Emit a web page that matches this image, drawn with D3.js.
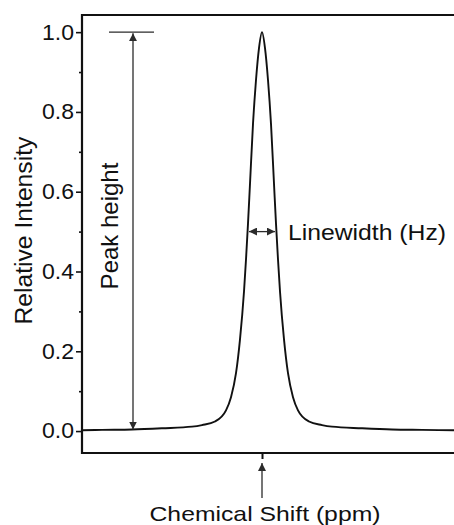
<!DOCTYPE html>
<html>
<head>
<meta charset="utf-8">
<script src="https://cdn.jsdelivr.net/npm/d3@7"></script>
<style>
  body { margin: 0; background: #fff; }
  text { font-family: "Liberation Sans", Arial, sans-serif; fill: #111; }
</style>
</head>
<body>
<div id="chart"></div>
<script>
// shift offset from peak centre (arbitrary units) and relative intensity
const shift = [-90, -80, -65, -50, -35, -30, -23.5, -18, -15.5, -13, -11, -9, -8, -7, -6, -4.5, -3, -1.5,
               0, 1.5, 3, 4.5, 6, 7, 8, 9, 11, 13, 15.5, 18, 23.5, 30, 35, 50, 65, 80, 96];
const intensity = [0.002, 0.003, 0.004, 0.007, 0.011, 0.015, 0.024, 0.052, 0.085, 0.145, 0.23, 0.35, 0.43, 0.52, 0.62, 0.77, 0.88, 0.96,
                   1.0, 0.96, 0.88, 0.77, 0.62, 0.52, 0.43, 0.35, 0.23, 0.145, 0.085, 0.052, 0.024, 0.015, 0.011, 0.007, 0.004, 0.003, 0.002];
const yTicks = [0, 0.2, 0.4, 0.6, 0.8, 1.0];
const yMinorTicks = [0.1, 0.3, 0.5, 0.7, 0.9];

// annotation anchors (data units)
const peakCentre = 0;
const peakHeight = 1.0;
const halfWidth = 6.5;
const heightArrowAt = -64.5;
const capSpan = [-76.5, -54];

(function nmrPeak(){
    let width = 454,
    height = 525,
    margin = ({top: 15, right: 0, bottom: 72, left: 82})

    const svg = d3.select("#chart")
      .append("svg")
      .attr("width", width)
      .attr("height", height);

    let xScale = d3.scaleLinear()
      .domain([-90, 96])
      .range([margin.left, width - margin.right]);

    let yScale = d3.scaleLinear()
      .domain([-0.055, 1.043])
      .range([height - margin.bottom, margin.top]);

    // arrow heads
    const defs = svg.append("defs");
    defs.append("marker")
      .attr("id", "head")
      .attr("viewBox", "0 0 10 10")
      .attr("refX", 10).attr("refY", 5)
      .attr("markerWidth", 8).attr("markerHeight", 8)
      .attr("markerUnits", "userSpaceOnUse")
      .attr("orient", "auto-start-reverse")
      .append("path")
      .attr("d", "M0,0 L10,5 L0,10 Z")
      .attr("fill", "#2b2b2b");

    // y axis, major + minor ticks
    const yAxis = svg.append("g")
      .attr("transform", `translate(${margin.left},0)`)
      .call(d3.axisLeft(yScale).tickValues(yTicks).tickSize(6).tickPadding(2).tickFormat(d3.format(".1f")));
    yAxis.select(".domain").remove();
    yAxis.selectAll("line").attr("stroke", "#111").attr("stroke-width", 1.6);
    yAxis.selectAll("text")
      .attr("font-size", 21.5)
      .attr("textLength", 32)
      .attr("lengthAdjust", "spacingAndGlyphs")
      .style("font-family", "'Liberation Sans', Arial, sans-serif")
      .attr("fill", "#111");

    const yMinor = svg.append("g")
      .attr("transform", `translate(${margin.left},0)`)
      .call(d3.axisLeft(yScale).tickValues(yMinorTicks).tickSize(3).tickFormat(""));
    yMinor.select(".domain").remove();
    yMinor.selectAll("line").attr("stroke", "#111").attr("stroke-width", 1.6);

    // x axis: single tick at the peak position
    const xAxis = svg.append("g")
      .attr("transform", `translate(0,${height - margin.bottom})`)
      .call(d3.axisBottom(xScale).tickValues([peakCentre]).tickSize(6).tickFormat(""));
    xAxis.select(".domain").remove();
    xAxis.selectAll("line").attr("stroke", "#111").attr("stroke-width", 2);

    // frame: left, top, bottom spines
    const frame = svg.append("g").attr("stroke", "#111").attr("stroke-width", 2.2).attr("fill", "none");
    frame.append("line")
      .attr("x1", margin.left).attr("x2", margin.left)
      .attr("y1", margin.top - 1).attr("y2", height - margin.bottom + 1);
    frame.append("line")
      .attr("x1", margin.left).attr("x2", width)
      .attr("y1", margin.top).attr("y2", margin.top);
    frame.append("line")
      .attr("x1", margin.left).attr("x2", width)
      .attr("y1", height - margin.bottom).attr("y2", height - margin.bottom);

    // spectrum line
    const data = shift.map((s, i) => ({shift: s, value: intensity[i]}));
    let line = d3.line()
      .x(d => xScale(d.shift))
      .y(d => yScale(d.value))
      .curve(d3.curveMonotoneX);

    svg.append("path")
      .datum(data)
      .attr("d", line)
      .attr("fill", "none")
      .attr("stroke", "#111")
      .attr("stroke-width", 1.9)
      .attr("stroke-linejoin", "round");

    // peak height annotation
    const ann = svg.append("g").attr("stroke", "#2b2b2b").attr("stroke-width", 1.3);
    ann.append("line")
      .attr("x1", xScale(capSpan[0])).attr("x2", xScale(capSpan[1]))
      .attr("y1", yScale(peakHeight)).attr("y2", yScale(peakHeight));
    ann.append("line")
      .attr("x1", xScale(heightArrowAt)).attr("x2", xScale(heightArrowAt))
      .attr("y1", yScale(peakHeight) + 1).attr("y2", yScale(0) - 1.5)
      .attr("marker-start", "url(#head)")
      .attr("marker-end", "url(#head)");

    // linewidth annotation
    ann.append("line")
      .attr("x1", xScale(-halfWidth)).attr("x2", xScale(halfWidth))
      .attr("y1", yScale(peakHeight / 2)).attr("y2", yScale(peakHeight / 2))
      .attr("marker-start", "url(#head)")
      .attr("marker-end", "url(#head)");

    // chemical shift arrow under the axis
    ann.append("line")
      .attr("x1", xScale(peakCentre)).attr("x2", xScale(peakCentre))
      .attr("y1", height - margin.bottom + 45).attr("y2", height - margin.bottom + 10)
      .attr("marker-end", "url(#head)");

    // texts
    svg.append("text")
      .attr("transform", `translate(31.5,${(yScale(0.0) + yScale(1.0)) / 2 - 1}) rotate(-90)`)
      .attr("text-anchor", "middle")
      .attr("font-size", 24.7)
      .text("Relative Intensity");

    svg.append("text")
      .attr("transform", `translate(${xScale(heightArrowAt) - 15},226) rotate(-90)`)
      .attr("text-anchor", "middle")
      .attr("font-size", 24)
      .text("Peak height");

    svg.append("text")
      .attr("x", xScale(halfWidth) + 13)
      .attr("y", yScale(peakHeight / 2) + 8.5)
      .attr("font-size", 22)
      .attr("textLength", 158)
      .attr("lengthAdjust", "spacingAndGlyphs")
      .text("Linewidth (Hz)");

    svg.append("text")
      .attr("x", xScale(peakCentre) + 3)
      .attr("y", 520.5)
      .attr("text-anchor", "middle")
      .attr("font-size", 21)
      .attr("textLength", 231)
      .attr("lengthAdjust", "spacingAndGlyphs")
      .text("Chemical Shift (ppm)");
})();
</script>
</body>
</html>
